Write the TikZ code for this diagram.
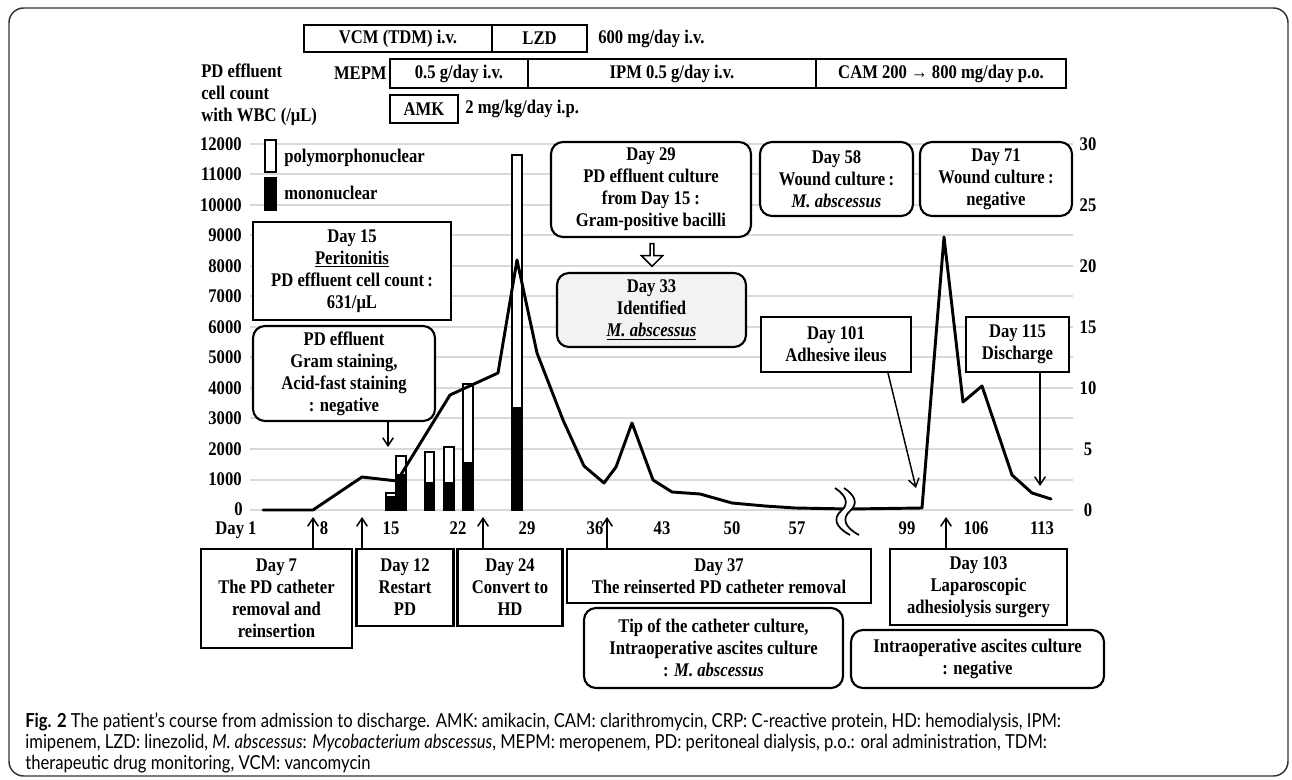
\documentclass[tikz,border=0pt]{standalone}
\usepackage{fontspec}
\setmainfont[FakeStretch=0.86]{Liberation Serif}
\newfontfamily\capfont[FakeStretch=0.86]{Lato}
\usetikzlibrary{arrows.meta,shapes.arrows}

\tikzset{every picture/.style={line width=0.5pt}}
\tikzset{
  lbl/.style={font=\bfseries\fontsize{14.5}{16.5}\selectfont, inner sep=0.75pt, align=center},
  sqbox/.style={lbl, draw, line width=1.6pt, fill=white},
  rndbox/.style={sqbox, rounded corners=9pt},
  gridline/.style={color={rgb, 255:red, 217; green, 217; blue, 217}, line width=1.5pt},
  pointer/.style={line width=1.1pt, -{Straight Barb[length=6pt,width=8pt]}},
  crpline/.style={line width=2.2pt, line join=round, line cap=round},
  wbcbar/.style={draw, line width=0.8pt},
}

\begin{document}
\begin{tikzpicture}[x=0.75pt,y=0.75pt,yscale=-1,xscale=1]
\useasboundingbox (0,0) rectangle (1292,780);

%Shape: Frame
\draw [color={rgb, 255:red, 51; green, 51; blue, 51}, line width=1.1pt, rounded corners=11pt] (9,8) rectangle (1288,776);

%Shape: Grid lines
\draw [gridline] (250,510) -- (1073,510);
\draw [gridline] (250,479.5) -- (1073,479.5);
\draw [gridline] (250,449) -- (1073,449);
\draw [gridline] (250,418.5) -- (1073,418.5);
\draw [gridline] (250,388) -- (1073,388);
\draw [gridline] (250,357.5) -- (1073,357.5);
\draw [gridline] (250,327) -- (1073,327);
\draw [gridline] (250,296.5) -- (1073,296.5);
\draw [gridline] (250,266) -- (1073,266);
\draw [gridline] (250,235.5) -- (1073,235.5);
\draw [gridline] (250,205) -- (1073,205);
\draw [gridline] (250,174.5) -- (1073,174.5);
\draw [gridline] (250,144) -- (1073,144);

% Left axis
\node (l0) [lbl, anchor=east, inner sep=0pt] at (243,509) {0};
\node (l1) [lbl, anchor=east] at (243,479.5) {1000};
\node (l2) [lbl, anchor=east] at (243,449) {2000};
\node (l3) [lbl, anchor=east] at (243,418.5) {3000};
\node (l4) [lbl, anchor=east] at (243,388) {4000};
\node (l5) [lbl, anchor=east] at (243,357.5) {5000};
\node (l6) [lbl, anchor=east] at (243,327) {6000};
\node (l7) [lbl, anchor=east] at (243,296.5) {7000};
\node (l8) [lbl, anchor=east] at (243,266) {8000};
\node (l9) [lbl, anchor=east] at (243,235.5) {9000};
\node (l10) [lbl, anchor=east] at (243,205) {10000};
\node (l11) [lbl, anchor=east] at (243,174.5) {11000};
\node (l12) [lbl, anchor=east] at (243,144) {12000};

% Right axis
\node (r0) [lbl] at (1088,510) {0};
\node (r5) [lbl] at (1088,449) {5};
\node (r10) [lbl] at (1088,388) {10};
\node (r15) [lbl] at (1088,327) {15};
\node (r20) [lbl] at (1088,266) {20};
\node (r25) [lbl] at (1088,205) {25};
\node (r30) [lbl] at (1088,144) {30};

% Day axis
\node (day1) [lbl, inner sep=0pt] at (236,530) {Day 1};
\node (day8) [lbl] at (324,528) {8};
\node (day15) [lbl] at (391,528) {15};
\node (day22) [lbl] at (458,528) {22};
\node (day29) [lbl] at (527,528) {29};
\node (day36) [lbl] at (595,528) {36};
\node (day43) [lbl] at (662,528) {43};
\node (day50) [lbl] at (732,528) {50};
\node (day57) [lbl] at (797,528) {57};
\node (day99) [lbl] at (907,528) {99};
\node (day106) [lbl] at (976,528) {106};
\node (day113) [lbl] at (1042,528) {113};

%Shape: WBC bars
\draw [wbcbar, fill=white] (386,510) rectangle (396,493);
\draw [wbcbar, fill=black] (386,510) rectangle (396,497);
\draw [wbcbar, fill=white] (396,510) rectangle (406,456);
\draw [wbcbar, fill=black] (396,510) rectangle (406,475);
\draw [wbcbar, fill=white] (425,510) rectangle (434,452);
\draw [wbcbar, fill=black] (425,510) rectangle (434,483);
\draw [wbcbar, fill=white] (444,510) rectangle (454,447);
\draw [wbcbar, fill=black] (444,510) rectangle (454,483);
\draw [wbcbar, fill=white] (463,510) rectangle (473,384);
\draw [wbcbar, fill=black] (463,510) rectangle (473,463);
\draw [wbcbar, fill=white] (512,510) rectangle (522,155);
\draw [wbcbar, fill=black] (512,510) rectangle (522,408);

%Shape: CRP line
\draw [crpline] (263,510) -- (313,510) -- (362,477) -- (397,481) -- (450,395) -- (498,373) -- (517,260) -- (537,353) -- (563,420) -- (584,466) -- (604,483) -- (616,467) -- (632,423) -- (653,480) -- (672,492) -- (700,494) -- (732,503) -- (765,506) -- (795,508) -- (850,509) -- (922,508) -- (944,237) -- (963,402) -- (982,386) -- (1012,475) -- (1032,493) -- (1051,499);

%Shape: Axis break
\draw [white, line width=4pt] (840,488) .. controls (852,496) and (854,504) .. (846,511) .. controls (838,518) and (840,527) .. (855,535);
\draw [line width=1.3pt] (835,488) .. controls (847,496) and (849,504) .. (841,511) .. controls (833,518) and (835,527) .. (850,535);
\draw [line width=1.3pt] (844,488) .. controls (856,496) and (858,504) .. (850,511) .. controls (842,518) and (844,527) .. (859,535);

% Legend
\draw [wbcbar, line width=1.1pt, fill=white] (265,140) rectangle (276,172);
\draw [wbcbar, line width=1.1pt, fill=black] (265,178) rectangle (276,210);
\node (poly) [lbl, anchor=west] at (283,158) {polymorphonuclear};
\node (mono) [lbl, anchor=west] at (283,193) {mononuclear};

% Drugs
\node (vcmbox) [sqbox, minimum width=141pt, minimum height=20.25pt] at (398,38.5) {VCM (TDM) i.v.};
\node (lzdbox) [sqbox, minimum width=71.25pt, minimum height=20.25pt] at (539.5,38.5) {LZD};
\node (lzddose) [lbl, anchor=west] at (597,38.5) {600 mg/day i.v.};
\node (mepmname) [lbl, anchor=east] at (388,73) {MEPM};
\node (mepmbox) [sqbox, minimum width=103.5pt, minimum height=21.75pt] at (459,73.5) {0.5 g/day i.v.};
\node (ipmbox) [sqbox, minimum width=216pt, minimum height=21.75pt] at (672,73.5) {IPM 0.5 g/day i.v.};
\node (cambox) [sqbox, minimum width=187.5pt, minimum height=21.75pt] at (941,73.5) {CAM 200 → 800 mg/day p.o.};
\node (amkbox) [sqbox, minimum width=51pt, minimum height=21pt] at (424,109) {AMK};
\node (amkdose) [lbl, anchor=west] at (464,109) {2 mg/kg/day i.p.};
\node (wbctitle) [lbl, anchor=west, align=left] at (200,94.5) {PD effluent\\cell count\\with WBC (/μL)};

% Upper events
\node (peri) [sqbox, minimum width=148.5pt, minimum height=73.5pt] at (352,271) {Day 15\\\underline{Peritonitis}\\PD effluent cell count\,:\\631/μL};
\node (stain) [rndbox, minimum width=136.5pt, minimum height=71.25pt] at (344,373.5) {PD effluent\\Gram staining,\\Acid-fast staining\\: negative};
\node (cult29) [rndbox, minimum width=150pt, minimum height=71.25pt] at (651,189.5) {Day 29\\PD effluent culture\\from Day 15 :\\Gram-positive bacilli};
\node (ident33) [rndbox, fill={rgb, 255:red, 242; green, 242; blue, 242}, minimum width=141.75pt, minimum height=55.5pt] at (651.5,310) {Day 33\\Identified\\\underline{\textit{M. abscessus}}};
\node (hollow) [draw, single arrow, shape border rotate=270, line width=1.1pt, fill=white, minimum width=16pt, minimum height=17pt, single arrow head extend=2.5pt, inner sep=0pt] at (652,254) {};
\node (wound58) [rndbox, minimum width=114.75pt, minimum height=55.5pt] at (836.5,179) {Day 58\\Wound culture\,:\\\textit{M. abscessus}};
\node (wound71) [rndbox, minimum width=114pt, minimum height=55.5pt] at (996,179) {Day 71\\Wound culture\,:\\negative};
\node (ileus101) [sqbox, minimum width=112.5pt, minimum height=41.25pt] at (836,344.5) {Day 101\\Adhesive ileus};
\node (dis115) [sqbox, minimum width=77.25pt, minimum height=41.25pt] at (1017.5,344.5) {Day 115\\Discharge};

% Lower events
\node (cath7) [sqbox, minimum width=113.25pt, minimum height=74.25pt] at (276.5,598.5) {Day 7\\The PD catheter\\removal and\\reinsertion};
\node (restart12) [sqbox, minimum width=72.75pt, minimum height=57.75pt] at (405,587.5) {Day 12\\Restart\\PD};
\node (hd24) [sqbox, minimum width=78.75pt, minimum height=57.75pt] at (510,587.5) {Day 24\\Convert to\\HD};
\node (removal37) [sqbox, minimum width=228pt, minimum height=40.5pt] at (719,576) {Day 37\\The reinserted PD catheter removal};
\node (tipcult) [rndbox, minimum width=194.25pt, minimum height=60pt] at (713.5,648) {Tip of the catheter culture,\\Intraoperative ascites culture\\: \textit{M. abscessus}};
\node (lap103) [sqbox, minimum width=132.75pt, minimum height=57pt] at (978.5,587) {Day 103\\Laparoscopic\\adhesiolysis surgery};
\node (ascites) [rndbox, minimum width=189.75pt, minimum height=43.5pt] at (977.5,659) {Intraoperative ascites culture\\: negative};

% Pointers
\coordinate (stainend) at (388,447);
\coordinate (ileusend) at (916,488);
\coordinate (disend) at (1040,486);
\coordinate (d7) at (313,517);
\coordinate (d12) at (362,517);
\coordinate (d24) at (483,517);
\coordinate (d37) at (607,517);
\coordinate (d103) at (946,517);
\draw [pointer] (stain.south -| stainend) -- (stainend);
\draw [pointer] ([xshift=39pt]ileus101.south) -- (ileusend);
\draw [pointer] (dis115.south -| disend) -- (disend);
\draw [pointer] (cath7.north -| d7) -- (d7);
\draw [pointer] (restart12.north -| d12) -- (d12);
\draw [pointer] (hd24.north -| d24) -- (d24);
\draw [pointer] (removal37.north -| d37) -- (d37);
\draw [pointer] (lap103.north -| d103) -- (d103);

% Caption
\node (caption) [anchor=west, align=left, inner sep=0pt, font=\capfont\fontsize{14.5}{15.75}\selectfont] at (25,743) {\textbf{Fig. 2} The patient’s course from admission to discharge. AMK: amikacin, CAM: clarithromycin, CRP: C-reactive protein, HD: hemodialysis, IPM:\\imipenem, LZD: linezolid, \textit{M. abscessus}: \textit{Mycobacterium abscessus}, MEPM: meropenem, PD: peritoneal dialysis, p.o.: oral administration, TDM:\\therapeutic drug monitoring, VCM: vancomycin};
\end{tikzpicture}
\end{document}
